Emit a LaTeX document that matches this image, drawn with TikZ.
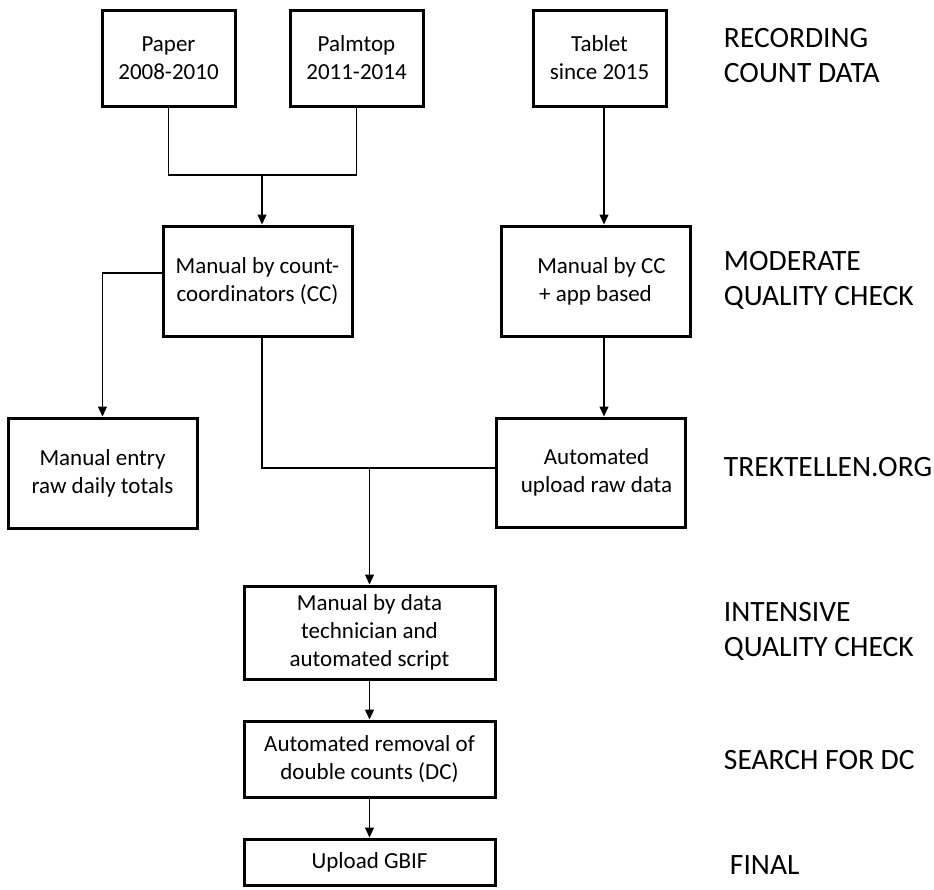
\documentclass[tikz,border=0pt]{standalone}
\usepackage{fontspec}
\setmainfont{Carlito}
\usepackage{tikz}
\usetikzlibrary{arrows.meta}

\tikzset{
	box/.style={draw=black, line width=3pt, align=center, inner sep=2pt,
		font=\fontsize{23}{28}\selectfont},
	stage/.style={anchor=west, align=left, font=\fontsize{29.5}{35}\selectfont},
	arr/.style={-{Triangle[length=10pt,width=9pt]}},
}

\begin{document}
\begin{tikzpicture}[x=1pt, y=-1pt, line width=1.3pt]
	\useasboundingbox (0,0) rectangle (934,889);

	\node[box, minimum width=133pt, minimum height=96pt]  (paper)   at (168.5, 58)  {Paper\\2008-2010};
	\node[box, minimum width=133pt, minimum height=96pt]  (palmtop) at (356.5, 58)  {Palmtop\\2011-2014};
	\node[box, minimum width=133pt, minimum height=96pt]  (tablet)  at (599.5, 58)  {Tablet\\since 2015};
	\node[box, minimum width=189pt, minimum height=110pt] (cc)      at (257.5, 281) {Manual by count-\\coordinators (CC)};
	\node[box, minimum width=189pt, minimum height=110pt] (ccapp)   at (595.5, 281) {\hspace*{12pt}Manual by CC\\+ app based};
	\node[box, minimum width=189pt, minimum height=110pt] (entry)   at (102.5, 473) {Manual entry\\raw daily totals};
	\node[box, minimum width=189pt, minimum height=109pt] (upload)  at (590.5, 472.5) {\hspace*{12pt}Automated\\\hspace*{12pt}upload raw data};
	\node[box, minimum width=251pt, minimum height=93pt]  (intense) at (369.5, 632.5) {Manual by data\\technician and\\automated script};
	\node[box, minimum width=251pt, minimum height=76pt]  (search)  at (369.5, 759) {Automated removal of\\double counts (DC)};
	\node[box, minimum width=251pt, minimum height=46pt]  (gbif)    at (369.5, 862) {Upload GBIF};

	\node[stage] (s1) at (720, 55.5)  {RECORDING\\COUNT DATA};
	\node[stage] (s2) at (720, 280.5) {MODERATE\\QUALITY CHECK};
	\node[stage] (s3) at (720, 467)   {TREKTELLEN.ORG};
	\node[stage] (s4) at (720, 631.5) {INTENSIVE\\QUALITY CHECK};
	\node[stage] (s5) at (720, 760)   {SEARCH FOR DC};
	\node[stage] (s6) at (726, 865)   {FINAL};

	\coordinate (j1) at (262, 175);
	\coordinate (j2) at (369.5, 468);
	\coordinate (t1) at (604, 0);

	\draw (paper.south) |- (j1) -| (palmtop.south);
	\draw[arr] (j1) -- (j1 |- cc.north);
	\draw[arr] ([yshift=8pt]cc.west) -| (entry.north);
	\draw (j1 |- cc.south) |- (j2) -- (j2 -| upload.west);
	\draw[arr] (j2) -- (intense.north);
	\draw[arr] (t1 |- tablet.south) -- (t1 |- ccapp.north);
	\draw[arr] (t1 |- ccapp.south) -- (t1 |- upload.north);
	\draw[arr] (intense.south) -- (search.north);
	\draw[arr] (search.south) -- (gbif.north);

\end{tikzpicture}
\end{document}
